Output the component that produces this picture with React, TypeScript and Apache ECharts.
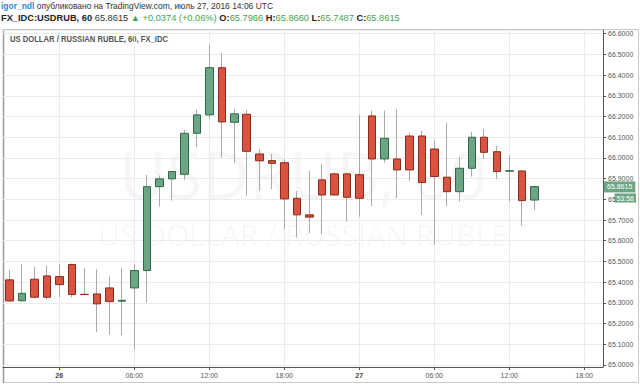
import React, { useEffect, useRef } from "react";
import * as echarts from "echarts";

const categories = [
  "25 20:00", "25 21:00", "25 22:00", "25 23:00",
  "26 00:00", "26 01:00", "26 02:00", "26 03:00", "26 04:00", "26 05:00",
  "26 06:00", "26 07:00", "26 08:00", "26 09:00", "26 10:00", "26 11:00",
  "26 12:00", "26 13:00", "26 14:00", "26 15:00", "26 16:00", "26 17:00",
  "26 18:00", "26 19:00", "26 20:00", "26 21:00", "26 22:00", "26 23:00",
  "27 00:00", "27 01:00", "27 02:00", "27 03:00", "27 04:00", "27 05:00",
  "27 06:00", "27 07:00", "27 08:00", "27 09:00", "27 10:00", "27 11:00",
  "27 12:00", "27 13:00", "27 14:00", "27 15:00", "27 16:00", "27 17:00",
  "27 18:00", "27 19:00",
];

const opens = [
  65.411, 65.31, 65.414, 65.43, 65.427, 65.485, 65.341, 65.343, 65.372, 65.308,
  65.372, 65.456, 65.861, 65.899, 65.921, 66.119, 66.208, 66.436, 66.172, 66.211,
  66.019, 65.987, 65.977, 65.805, 65.725, 65.894, 65.923, 65.923, 65.919, 66.203,
  65.995, 65.995, 66.106, 66.106, 66.043, 65.907, 65.837, 65.95, 66.1, 66.03,
  65.936, 65.937, 65.7966,
];
const closes = [
  65.309, 65.346, 65.327, 65.327, 65.388, 65.34, 65.34, 65.295, 65.306, 65.312,
  65.456, 65.861, 65.899, 65.934, 66.119, 66.208, 66.436, 66.174, 66.213, 66.032,
  65.986, 65.974, 65.802, 65.725, 65.714, 65.821, 65.821, 65.81, 65.805, 65.995,
  66.095, 65.942, 65.942, 65.881, 65.91, 65.837, 65.95, 66.1, 66.027, 65.934,
  65.938, 65.794, 65.8615,
];
const lows = [
  65.305, 65.306, 65.32, 65.318, 65.327, 65.327, 65.338, 65.159, 65.146, 65.144,
  65.076, 65.301, 65.765, 65.794, 65.894, 66.052, 66.187, 66.0, 65.977, 65.818,
  65.842, 65.849, 65.657, 65.617, 65.636, 65.633, 65.818, 65.692, 65.716, 65.768,
  65.977, 65.806, 65.886, 65.725, 65.58, 65.768, 65.789, 65.91, 65.994, 65.897,
  65.789, 65.673, 65.7487,
];
const highs = [
  65.459, 65.488, 65.475, 65.478, 65.488, 65.49, 65.469, 65.462, 65.427, 65.469,
  65.485, 65.918, 65.915, 65.937, 66.135, 66.232, 66.546, 66.506, 66.235, 66.232,
  66.043, 66.019, 65.994, 65.841, 65.939, 65.971, 65.929, 65.929, 66.208, 66.229,
  66.229, 66.235, 66.122, 66.132, 66.087, 66.171, 66.003, 66.127, 66.139, 66.058,
  66.014, 65.94, 65.866,
];

const lastPrice = 65.8615;
const countdown = "53:58";
const labelHours = ["00:00", "06:00", "12:00", "18:00"];

const UP = "#6ba583";
const UP_BORDER = "#2f6748";
const DOWN = "#d9533f";
const DOWN_BORDER = "#8a2b1d";
const WICK = "#a9a9a9";
const GREEN_TEXT = "#3ea650";

export default function App() {
  const ref = useRef<HTMLDivElement>(null);
  useEffect(() => {
    const chart = echarts.init(ref.current!, null, { renderer: "svg" });
    const wickData = opens.map((o, i) => [o, closes[i], lows[i], highs[i]]);
    const bodyData = opens.map((o, i) => [
      o,
      closes[i],
      Math.min(o, closes[i]),
      Math.max(o, closes[i]),
    ]);
    const isLabel = (_i: number, v: string) => labelHours.includes(v.slice(3));
    chart.setOption({
      animation: false,
      backgroundColor: "#ffffff",
      grid: { left: 3, right: 37, top: 30, bottom: 17 },
      xAxis: {
        type: "category",
        data: categories,
        boundaryGap: true,
        axisLine: { lineStyle: { color: "#555" } },
        axisTick: { show: true, interval: isLabel, alignWithLabel: true, length: 3, lineStyle: { color: "#555" } },
        axisLabel: {
          interval: isLabel,
          fontSize: 7,
          fontFamily: "Liberation Sans",
          color: "#555",
          margin: 5,
          formatter: (v: string) => (v.slice(3) === "00:00" ? "{d|" + v.slice(0, 2) + "}" : v.slice(3)),
          rich: { d: { fontSize: 7, fontWeight: "bold", color: "#444", fontFamily: "Liberation Sans" } },
        },
        splitLine: { show: true, interval: isLabel, alignWithLabel: true, lineStyle: { color: "#ebebeb", width: 1 } },
      },
      yAxis: {
        type: "value",
        position: "right",
        min: 64.99,
        max: 66.618,
        splitNumber: 16,
        scale: true,
        axisLine: { show: true, lineStyle: { color: "#555" } },
        axisTick: { show: true, length: 3, lineStyle: { color: "#555" } },
        axisLabel: {
          showMinLabel: false,
          showMaxLabel: false,
          fontSize: 7,
          fontFamily: "Liberation Sans",
          color: "#555",
          margin: 5,
          formatter: (v: number) => v.toFixed(4),
        },
        splitLine: { show: true, lineStyle: { color: "#ebebeb", width: 1 } },
      },
      graphic: [
        {
          type: "text",
          x: 303,
          y: 204,
          z: -1,
          silent: true,
          style: {
            text: "{a|USDRUB, 60}\n{b|US DOLLAR / RUSSIAN RUBLE}",
            fontFamily: "Open Sans",
            fill: "rgba(0,0,0,0.035)",
            align: "center",
            verticalAlign: "middle",
            rich: {
              a: { fontSize: 65, lineHeight: 61, fontFamily: "Open Sans", fill: "rgba(0,0,0,0.035)" },
              b: { fontSize: 30, lineHeight: 61, fontFamily: "Open Sans", fill: "rgba(0,0,0,0.035)" },
            },
          },
        },
        {
          type: "rect",
          silent: true,
          shape: { x: 3.5, y: 29.5, width: 635, height: 353 },
          style: { fill: "none", stroke: "#c9c9c9", lineWidth: 1 },
        },
        {
          type: "line",
          silent: true,
          shape: { x1: 3.5, y1: 29.5, x2: 3.5, y2: 383 },
          style: { stroke: "#9a9a9a", lineWidth: 1.5 },
        },
        {
          type: "text",
          x: 10,
          y: 39,
          silent: true,
          scaleX: 0.85,
          style: {
            text: "US DOLLAR / RUSSIAN RUBLE, 60, FX_IDC",
            fontSize: 9,
            fontWeight: "bold",
            fontFamily: "Liberation Sans",
            fill: "#555",
            align: "left",
            verticalAlign: "middle",
          },
        },
        {
          type: "text",
          x: 1,
          y: 6,
          silent: true,
          scaleX: 0.94,
          style: {
            text: "{u|igor_ndl} {t|опубликовано на TradingView.com, июль 27, 2016 14:06 UTC}",
            fontSize: 9,
            fontFamily: "Liberation Sans",
            align: "left",
            verticalAlign: "middle",
            rich: {
              u: { fill: "#2a8ad8", fontWeight: "bold", fontSize: 9, fontFamily: "Liberation Sans" },
              t: { fill: "#333", fontSize: 9, fontFamily: "Liberation Sans" },
            },
          },
        },
        {
          type: "text",
          x: 1,
          y: 18,
          silent: true,
          scaleX: 1.03,
          style: {
            text:
              "{b|FX_IDC:USDRUB, 60} {n|65.8615} {g|▲ +0.0374 (+0.06%)} {b|O:}{g|65.7966} {b|H:}{g|65.8660} {b|L:}{g|65.7487} {b|C:}{g|65.8615}",
            fontSize: 9,
            fontFamily: "Liberation Sans",
            align: "left",
            verticalAlign: "middle",
            rich: {
              b: { fill: "#222", fontWeight: "bold", fontSize: 9, fontFamily: "Liberation Sans" },
              n: { fill: "#333", fontSize: 9, fontFamily: "Liberation Sans" },
              g: { fill: GREEN_TEXT, fontSize: 9, fontFamily: "Liberation Sans" },
            },
          },
        },
        {
          type: "text",
          x: 636,
          y: 198,
          z: 100,
          silent: true,
          style: {
            text: countdown,
            fontSize: 7,
            fontFamily: "Liberation Sans",
            fill: "#fff",
            backgroundColor: UP,
            padding: [1, 2, 1, 2],
            align: "right",
            verticalAlign: "middle",
          },
        },
      ],
      series: [
        {
          type: "candlestick",
          data: wickData,
          barWidth: 1,
          z: 2,
          silent: true,
          itemStyle: {
            color: WICK,
            color0: WICK,
            borderColor: WICK,
            borderColor0: WICK,
            borderWidth: 1,
          },
        },
        {
          type: "candlestick",
          data: bodyData,
          barWidth: 8,
          z: 3,
          silent: true,
          itemStyle: {
            color: UP,
            color0: DOWN,
            borderColor: UP_BORDER,
            borderColor0: DOWN_BORDER,
            borderWidth: 1,
          },
          markLine: {
            symbol: "none",
            silent: true,
            lineStyle: { color: "transparent", width: 0 },
            data: [{ yAxis: lastPrice }],
            label: {
              position: "end",
              distance: 1,
              formatter: () => lastPrice.toFixed(4),
              backgroundColor: UP,
              color: "#fff",
              fontSize: 7,
              fontFamily: "Liberation Sans",
              padding: [2, 3, 2, 3],
            },
          },
        },
      ],
    });
    return () => chart.dispose();
  }, []);
  return (
    <div
      ref={ref}
      style={{ position: "absolute", left: 0, top: 0, width: 640, height: 384, background: "#fff" }}
    />
  );
}
